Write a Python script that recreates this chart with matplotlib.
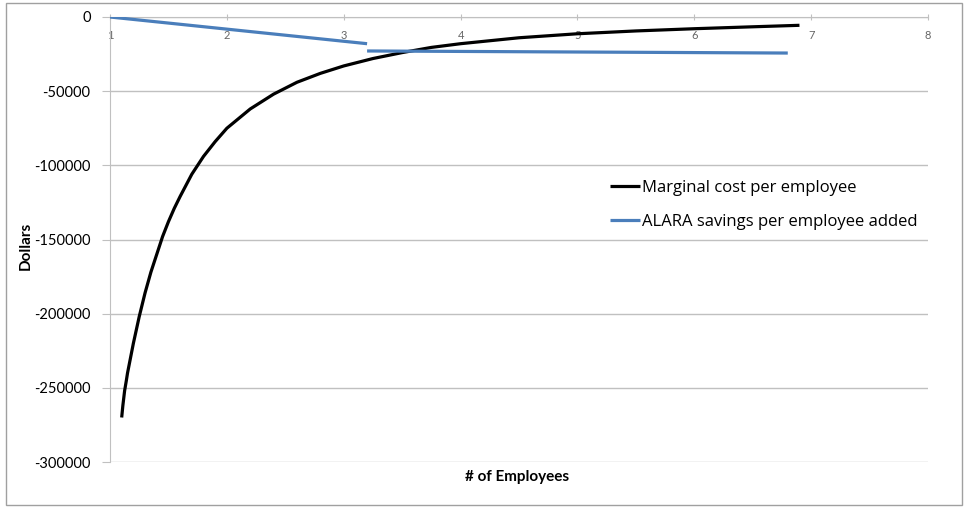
import matplotlib
matplotlib.use("Agg")
import matplotlib.pyplot as plt
import numpy as np
from matplotlib.patches import Rectangle

cost_x = [1.10, 1.11, 1.125, 1.14, 1.15, 1.175, 1.2, 1.225, 1.25, 1.275, 1.3, 1.35, 1.4,
          1.45, 1.5, 1.55, 1.6, 1.7, 1.8, 1.9, 2.0, 2.2, 2.4, 2.6, 2.8, 3.0, 3.25, 3.5,
          3.75, 4.0, 4.5, 5.0, 5.5, 6.0, 6.5, 6.9]
cost_y = [-270000, -262000, -252000, -245000, -240000, -230000, -220000, -211000, -202000,
          -194000, -186000, -172000, -160000, -148000, -138000, -129000, -121000, -106000,
          -94000, -84000, -75000, -62000, -52000, -44000, -38000, -33000, -28000, -24000,
          -20500, -18000, -14000, -11300, -9400, -7900, -6600, -5600]

# two pieces, NaN breaks the line
alara_x = [1.0, 3.2, np.nan, 3.2, 6.8]
alara_y = [0, -18000, np.nan, -22900, -24300]

plt.rcParams["font.family"] = ["Lato", "DejaVu Sans"]

fig = plt.figure(figsize=(9.64, 5.07), dpi=100)
ax = fig.add_axes([110 / 964, 1 - 462 / 507, 818 / 964, 445 / 507])

ax.plot(cost_x, cost_y, color="black", lw=2.3, label="Marginal cost per employee",
        solid_capstyle="butt", solid_joinstyle="round", zorder=3)
ax.plot(alara_x, alara_y, color="#4a7ebb", lw=2.3, label="ALARA savings per employee added",
        solid_capstyle="butt", zorder=3)

ax.set_xlim(1, 8)
ax.set_ylim(-300000, 0)
ax.set_yticks(np.arange(-300000, 1, 50000))
ax.set_xticks(range(1, 9))
ax.yaxis.grid(True, color="#c0c0c0", lw=1)
ax.set_axisbelow(True)

for s in ["top", "right"]:
    ax.spines[s].set_visible(False)
ax.spines["bottom"].set_position(("data", 0))
ax.spines["bottom"].set_color("#c0c0c0")
ax.spines["left"].set_color("#c0c0c0")
ax.tick_params(axis="y", direction="out", length=6, color="#c0c0c0", labelsize=10.5,
               pad=8)
ax.tick_params(axis="x", direction="inout", length=5, color="#c0c0c0", labelsize=8,
               labelcolor="#666666", pad=7)
ax.yaxis.set_major_formatter(matplotlib.ticker.FuncFormatter(lambda v, _: f"{int(v)}"))

fig.text(26 / 964, 1 - 246 / 507, "Dollars", rotation=90, ha="center", va="center",
         fontsize=11, fontweight="bold")
fig.text(517 / 964, 1 - 477 / 507, "# of Employees", ha="center", va="center",
         fontsize=11, fontweight="bold")

ax.legend(loc="upper left", bbox_to_anchor=(602 / 964, 1 - 172 / 507),
          bbox_transform=fig.transFigure, frameon=False,
          prop={"family": "Open Sans", "size": 12},
          handlelength=1.75, handletextpad=0.12, labelspacing=1.05, borderpad=0)

fig.add_artist(Rectangle((6 / 964, 2 / 507), 956 / 964, 502 / 507,
                         transform=fig.transFigure, fill=False, edgecolor="#a0a0a0",
                         lw=1))

fig.savefig("out.png", dpi=100)
